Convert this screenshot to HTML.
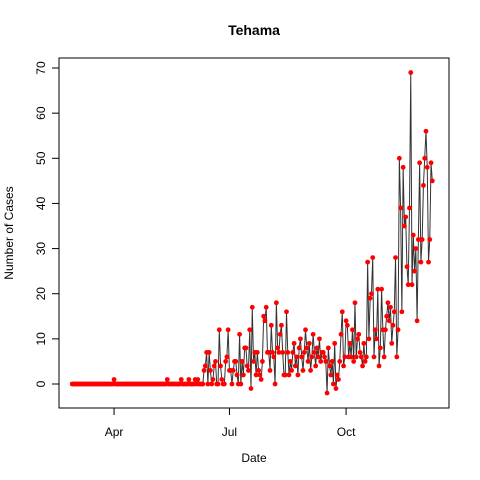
<!DOCTYPE html>
<html><head><meta charset="utf-8"><style>
body{margin:0;background:#fff}
svg{display:block;font-family:"Liberation Sans",sans-serif}
</style></head><body>
<svg id="chart" width="480" height="480">
<text x="254" y="35" text-anchor="middle" font-weight="bold" font-size="14">Tehama</text>
<text x="254" y="462" text-anchor="middle" font-size="12">Date</text>
<text transform="translate(13,233) rotate(-90)" text-anchor="middle" font-size="12">Number of Cases</text>
<rect x="59" y="58" width="390" height="350" fill="none" stroke="#000"/>
<g id="axes"></g><g id="series"></g>
</svg>
<script>
const xTickLabels=["Apr","Jul","Oct"];
const xTickDays=[33,124,216];
const yTicks=[0,10,20,30,40,50,60,70];
const startDate="2020-02-28";
const cases=[].concat(
Array(33).fill(0),[1],Array(41).fill(0),
[1,0,0,0,0,0,0,0,0,0,0,1,0,0,0,0,0,1,0,0,0,0,1,0,1,0,0,0,0],
[3,4,7,0,7,3,0],[1,4,5,0,0],[12,4,1,0,0,5,6],[12,3,3,0,3,5,5],
[2,0,11,0,5,2,8],[8,4,3,12,-1,17,5],[7,2,7,3,2,1,5],[15,14,17,7,7,3,13],
[7,6,0,18,8,7,11],[13,7,2,2,16,7,2],
[5,3,7,9,4,6,2,8,10,6,3,7,12,8,5,9,3,6,11,7,4,8,6,10,5,7],
[7,6,5,-2,8,4,2],[5,0,9,-1,2,1,5],[11,16,4,6,14,13,6],[9,6,12,5,18,6,10],
[11,7,6,4,9,5,6],[27,10,19,20,28,6,12],[10,21,4,8,21,12,6],[12,15,18,14,17,9,13],
[16,28,6,12,50,39,16],[48,35,37,26,22,39,69],[22,33,25,30,14,32,49],[27,32,44,50,56,48,27,32,49,45]
);
const NS="http://www.w3.org/2000/svg";
const xs=d=>72.2+d*1.268;
const ys=v=>384-v*4.514;
const axes=document.getElementById('axes'),ser=document.getElementById('series');
function mk(tag,attrs,parent){const e=document.createElementNS(NS,tag);for(const k in attrs)e.setAttribute(k,attrs[k]);parent.appendChild(e);return e;}
xTickDays.forEach((d,i)=>{
 const l=mk('line',{x1:xs(d),x2:xs(d),y1:408,y2:415,stroke:'#000'},axes);
 
 
 const t=mk('text',{x:xs(d),y:436,'text-anchor':'middle','font-size':12},axes);t.textContent=xTickLabels[i];
 
 
});
mk('line',{x1:59,x2:59,y1:ys(0),y2:ys(70),stroke:'#000'},axes);
mk('line',{x1:xs(33),x2:xs(216),y1:408,y2:408,stroke:'#000'},axes);
yTicks.forEach(v=>{
 const l=mk('line',{x1:52,x2:59,y1:ys(v),y2:ys(v),stroke:'#000'},axes);
 
 
 const t=mk('text',{transform:`translate(45,${ys(v)}) rotate(-90)`,'text-anchor':'middle','font-size':12},axes);t.textContent=v;
 
 
});
const pts=cases.map((v,i)=>xs(i).toFixed(2)+','+ys(v).toFixed(2)).join(' ');
const pl=mk('polyline',{points:pts,fill:'none',stroke:'#333','stroke-width':1},ser);


cases.forEach((v,i)=>{
 const c=mk('circle',{cx:xs(i),cy:ys(v),r:2.4,fill:'#ff0000'},ser);
 
 
});
</script>
</body></html>
